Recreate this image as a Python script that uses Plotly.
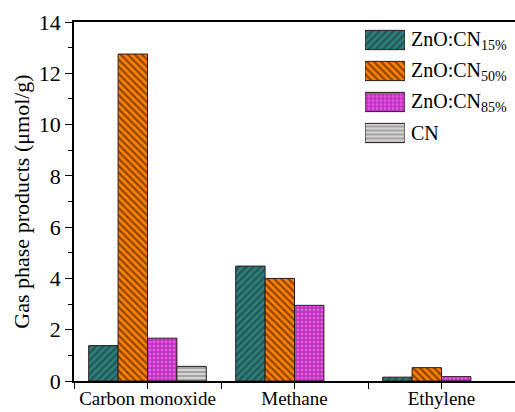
import plotly.graph_objects as go

# Gas phase products per catalyst (µmol/g)
categories = ["Carbon monoxide", "Methane", "Ethylene"]
series_names = ["ZnO:CN<sub>15%</sub>", "ZnO:CN<sub>50%</sub>", "ZnO:CN<sub>85%</sub>", "CN"]
zno_cn15 = [1.38, 4.48, 0.15]
zno_cn50 = [12.75, 4.00, 0.52]
zno_cn85 = [1.67, 2.95, 0.17]
cn = [0.57, None, None]
series_values = [zno_cn15, zno_cn50, zno_cn85, cn]

# Fill style for each series: background, pattern ink, pattern shape, size
styles = [
    dict(bg="#2f7d7a", fg="#133332", shape="/", size=5, solidity=0.45),
    dict(bg="#ff8000", fg="#1a0a00", shape="\\", size=5, solidity=0.45),
    dict(bg="#f050f0", fg="#3a0a3a", shape="+", size=4, solidity=0.4),
    dict(bg="#d4d4d4", fg="#5a5a5a", shape="-", size=4, solidity=0.4),
]

FONT = "Liberation Serif, Times New Roman, DejaVu Serif, serif"
W, H = 515, 412
ML, MR, MT, MB = 74, 0, 22, 31
plot_w = W - ML - MR
plot_h = H - MT - MB

fig = go.Figure()
x_pos = list(range(len(categories)))
for name, vals, st in zip(series_names, series_values, styles):
    fig.add_trace(go.Bar(
        x=x_pos, y=vals, name=name, showlegend=False,
        marker=dict(
            color=st["bg"],
            line=dict(color="#2a1a1a", width=1),
            pattern=dict(shape=st["shape"], fgcolor=st["fg"], bgcolor=st["bg"],
                         size=st["size"], solidity=st["solidity"], fillmode="overlay"),
        ),
        xaxis="x", yaxis="y",
    ))

# Legend swatches drawn as small horizontal bars on their own axes
sw_left, sw_right = 365, 405
sw_top, sw_bot = 24.5, 148.5
for i, (name, st) in enumerate(zip(series_names, styles)):
    fig.add_trace(go.Bar(
        x=[1], y=[i], orientation="h", width=0.62, showlegend=False,
        hoverinfo="skip",
        marker=dict(
            color=st["bg"],
            line=dict(color="#2a1a1a", width=1),
            pattern=dict(shape=st["shape"], fgcolor=st["fg"], bgcolor=st["bg"],
                         size=st["size"], solidity=st["solidity"], fillmode="overlay"),
        ),
        xaxis="x2", yaxis="y2",
    ))
    fig.add_annotation(
        x=(409 - ML) / plot_w, xref="paper", xanchor="left",
        y=i, yref="y2", yanchor="middle",
        text=name, showarrow=False,
        font=dict(family=FONT, size=20, color="black"),
    )

fig.update_layout(
    width=W, height=H,
    margin=dict(l=ML, r=MR, t=MT, b=MB),
    paper_bgcolor="white", plot_bgcolor="white",
    barmode="group", bargap=0.2, bargroupgap=0,
    font=dict(family=FONT, color="black"),
    xaxis=dict(
        range=[-0.5, 2.5], tickvals=x_pos, ticktext=categories,
        ticks="outside", ticklen=6, tickwidth=1, tickcolor="black",
        minor=dict(dtick=0.5, tick0=0.5, ticks="outside", ticklen=6, tickcolor="black"),
        showline=True, linecolor="black", linewidth=1.5, mirror=True,
        showgrid=False, zeroline=False, automargin=False,
        ticklabelstandoff=-7,
        tickfont=dict(family=FONT, size=19),
    ),
    yaxis=dict(
        range=[0, 14], dtick=2,
        ticks="outside", ticklen=7, tickwidth=1, tickcolor="black",
        minor=dict(dtick=1, ticks="outside", ticklen=4, tickcolor="black"),
        showline=True, linecolor="black", linewidth=1.5,
        showgrid=False, zeroline=False, automargin=False,
        tickfont=dict(family=FONT, size=22),
        title=dict(text="Gas phase products (\u03bcmol/g)", font=dict(family=FONT, size=22), standoff=3),
    ),
    xaxis2=dict(
        domain=[(sw_left - ML) / plot_w, (sw_right - ML) / plot_w],
        range=[0, 1], visible=False, fixedrange=True, anchor="y2",
    ),
    yaxis2=dict(
        domain=[(H - MB - sw_bot) / plot_h, (H - MB - sw_top) / plot_h],
        range=[3.5, -0.5], visible=False, fixedrange=True, anchor="x2",
    ),
)

fig.write_html("out.html")
